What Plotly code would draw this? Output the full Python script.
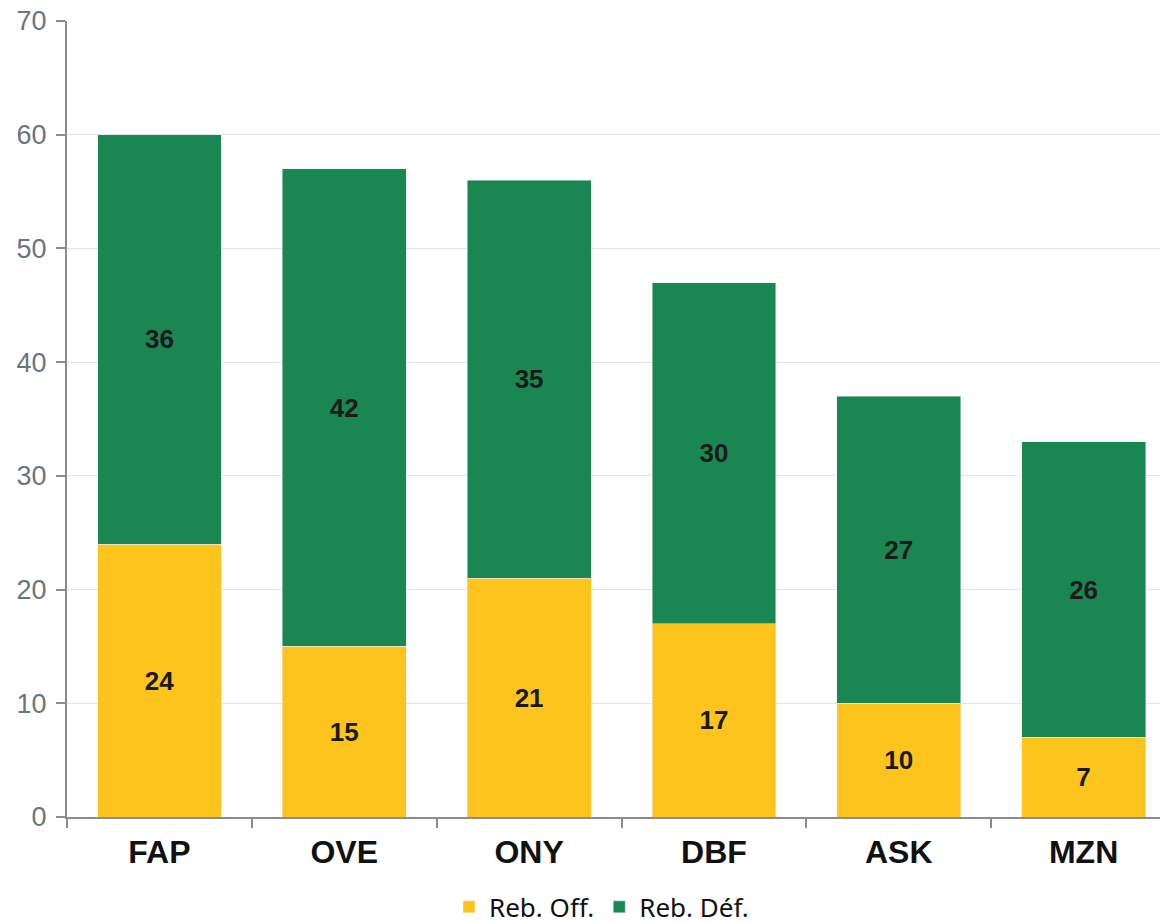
import plotly.graph_objects as go

teams = ["FAP", "OVE", "ONY", "DBF", "ASK", "MZN"]
reb_off = [24, 15, 21, 17, 10, 7]
reb_def = [36, 42, 35, 30, 27, 26]

label_font = dict(family="Liberation Sans, Arial", size=26, color="#1a1a1a")

fig = go.Figure()
fig.add_trace(go.Bar(
    x=teams, y=reb_off, name="Reb. Off.", marker_color="#FCC41C",
    texttemplate="<b>%{y}</b>", textposition="inside", insidetextanchor="middle",
    textfont=label_font, textangle=0,
))
fig.add_trace(go.Bar(
    x=teams, y=reb_def, name="Reb. Déf.", marker_color="#1A8753",
    texttemplate="<b>%{y}</b>", textposition="inside", insidetextanchor="middle",
    textfont=label_font, textangle=0,
))

# page body has an 8px margin, so the figure sits 8px right/down
fig.update_layout(
    barmode="stack",
    bargap=0.33,
    width=1168,
    height=923,
    margin=dict(l=59, r=0, t=13, b=114),
    plot_bgcolor="white",
    paper_bgcolor="white",
    font=dict(family="Liberation Sans, Arial"),
    uniformtext=dict(minsize=26),
    legend=dict(
        orientation="h", x=0.482, xanchor="center", y=-0.113, yanchor="middle",
        font=dict(family="Noto Sans, Liberation Sans", size=26, color="#111"),
        itemwidth=30, traceorder="normal",
    ),
    xaxis=dict(
        range=[-0.5, 5.5],
        automargin=False,
        tickson="boundaries",
        ticks="outside", ticklen=9, tickcolor="#8c8c8c", tickwidth=2,
        ticklabelstandoff=6,
        showline=True, linecolor="#8c8c8c", linewidth=2,
        tickfont=dict(family="Liberation Sans, Arial", size=32, color="#111"),
        tickprefix="<b>", ticksuffix="</b>",
    ),
    yaxis=dict(
        range=[0, 70], dtick=10,
        automargin=False,
        ticklabeloverflow="allow",
        ticklabelstandoff=4,
        showgrid=True, gridcolor="#e4e4e8", gridwidth=1,
        ticks="outside", ticklen=9, tickcolor="#8c8c8c", tickwidth=2,
        showline=True, linecolor="#8c8c8c", linewidth=2,
        tickfont=dict(family="Liberation Sans, Arial", size=27, color="#6b7580"),
        zeroline=False,
    ),
)

fig.write_html("out.html")
